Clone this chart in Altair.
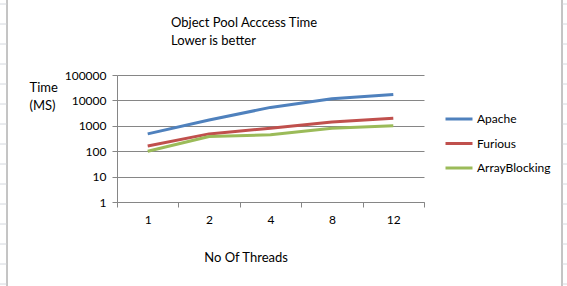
import altair as alt
import pandas as pd

threads = ["1", "2", "4", "8", "12"]
apache = [480, 1700, 5300, 11500, 17000]
furious = [160, 480, 800, 1400, 2000]
array_blocking = [100, 380, 440, 800, 1000]
series_names = ["Apache", "Furious", "ArrayBlocking"]
series_colors = ["#4F81BD", "#C0504D", "#9BBB59"]
y_ticks = [1, 10, 100, 1000, 10000, 100000]

rows = []
for name, vals in zip(series_names, [apache, furious, array_blocking]):
    for t, v in zip(threads, vals):
        rows.append({"threads": t, "series": name, "time": v})
df = pd.DataFrame(rows)

FONT = "Lato"
GRID = "#868686"
FRAME = "#8a8a8a"
CELL = "#d4d8de"

lines = alt.Chart(df).mark_line(strokeWidth=3, strokeJoin="round").encode(
    x=alt.X(
        "threads:N", sort=threads, bandPosition=0.5,
        scale=alt.Scale(type="band", paddingInner=0, paddingOuter=0),
        axis=alt.Axis(
            title="No Of Threads", labelAngle=0, tickBand="extent",
            domainColor=GRID, tickColor=GRID, tickSize=5, labelPadding=7,
            labelFont=FONT, labelFontSize=12, labelColor="black",
            titleFont=FONT, titleFontSize=13, titleFontWeight="normal", titleColor="black",
            titleX=128.6, titleY=59.5, titleAlign="center", titleBaseline="alphabetic",
            grid=False,
        ),
    ),
    y=alt.Y(
        "time:Q",
        scale=alt.Scale(type="log", domain=[1, 100000], nice=False),
        axis=alt.Axis(
            values=y_ticks, format="d", title=["Time", "(MS)"], titleAngle=0,
            titleX=-88, titleY=16.5, titleAlign="left", titleBaseline="alphabetic",
            titleLineHeight=18,
            titleFont=FONT, titleFontSize=13, titleFontWeight="normal", titleColor="black",
            domainColor=GRID, tickColor=GRID, tickSize=5, labelPadding=6,
            labelFont=FONT, labelFontSize=12, labelColor="black",
            grid=True, gridColor=GRID, gridWidth=1,
        ),
    ),
    color=alt.Color(
        "series:N", sort=series_names,
        scale=alt.Scale(domain=series_names, range=series_colors),
        legend=alt.Legend(
            title=None, orient="none", legendX=327, legendY=29,
            symbolType="stroke", symbolStrokeWidth=3, symbolSize=729,
            labelFont=FONT, labelFontSize=12, labelColor="black",
            labelOffset=3, rowPadding=3.5, padding=0,
        ),
    ),
)

frame = alt.Chart(pd.DataFrame({"side": ["left", "right"], "px": [-110, 445]})).mark_rule(
    color=FRAME, strokeWidth=1
).encode(
    x=alt.X("px:Q", scale=None, axis=None),
    y=alt.value(-80),
    y2=alt.value(215),
)

cell_y = [v - 75 for v in range(4, 290, 20)]
cells_df = pd.DataFrame({"py": cell_y})
cells_left = alt.Chart(cells_df).mark_rule(color=CELL, strokeWidth=1).encode(
    y=alt.Y("py:Q", scale=None, axis=None),
    x=alt.value(-120),
    x2=alt.value(-110.5),
)
cells_right = alt.Chart(cells_df).mark_rule(color=CELL, strokeWidth=1).encode(
    y=alt.Y("py:Q", scale=None, axis=None),
    x=alt.value(445.5),
    x2=alt.value(460),
)

deco = alt.layer(frame, cells_left, cells_right).resolve_scale(x="independent", y="independent")

chart = alt.layer(lines, deco).resolve_scale(
    x="independent", y="independent"
).properties(
    width=307,
    height=127,
    padding={"left": 117, "top": 75, "right": 143, "bottom": 84},
    autosize=alt.AutoSizeParams(type="none"),
    title=alt.TitleParams(
        ["Object Pool Acccess Time", "Lower is better"],
        anchor="start", frame="group", dx=54, offset=0, dy=53,
        font=FONT, fontSize=13, fontWeight="normal", color="black", lineHeight=18,
    ),
    background="white",
).configure_view(stroke=None)

chart.save("out.html", embed_options={"renderer": "svg", "actions": False})
